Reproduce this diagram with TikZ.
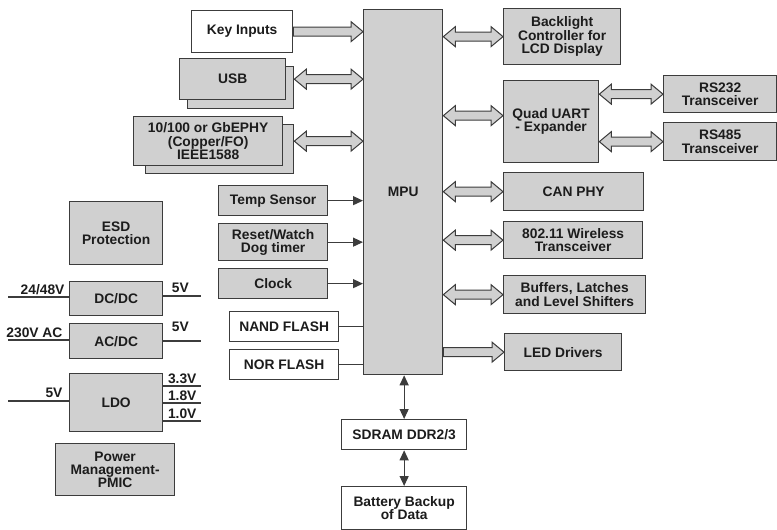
\documentclass[tikz,border=0pt]{standalone}
\usepackage{fontspec}
\setmainfont{Liberation Sans}
\usepackage{tikz}
\usetikzlibrary{positioning}
\usetikzlibrary{calc}
\usetikzlibrary{arrows.meta}
\definecolor{boxgray}{HTML}{D0D0D0}
\definecolor{edgegray}{HTML}{3C3C3C}
\definecolor{inkgray}{HTML}{1C1C1C}
\tikzset{blk/.style = {draw=edgegray, fill=boxgray, line width=1.3pt, anchor=north west,
                       align=center, inner sep=1pt, text=inkgray,
                       font=\bfseries\fontsize{13.8}{13.3}\selectfont}}
\tikzset{wblk/.style = {blk, fill=white}}
\tikzset{lbl/.style = {inner sep=1pt, text=inkgray, font=\bfseries\fontsize{13.8}{13.3}\selectfont}}
\tikzset{wire/.style = {draw=edgegray, line width=1.2pt}}
\tikzset{ptr/.style = {wire, -{Triangle[length=10pt,width=9pt]}}}
\tikzset{pptr/.style = {wire, {Triangle[length=10pt,width=9pt]}-{Triangle[length=10pt,width=9pt]}}}
\tikzset{bus/.style = {draw=edgegray, fill=boxgray, line width=1pt, line join=miter}}
% hollow bus arrows, both ends / one end
\newcommand{\busboth}[2]{%
  \draw[bus] let \p1=#1, \p2=#2 in
    (\x1,\y1) -- (\x1+12pt,\y1+10pt) -- (\x1+12pt,\y1+4.5pt)
    -- (\x2-12pt,\y1+4.5pt) -- (\x2-12pt,\y1+10pt) -- (\x2,\y1)
    -- (\x2-12pt,\y1-10pt) -- (\x2-12pt,\y1-4.5pt) -- (\x1+12pt,\y1-4.5pt)
    -- (\x1+12pt,\y1-10pt) -- cycle;}
\newcommand{\busone}[2]{%
  \draw[bus] let \p1=#1, \p2=#2 in
    (\x1,\y1+4.5pt) -- (\x2-12pt,\y1+4.5pt) -- (\x2-12pt,\y1+10pt) -- (\x2,\y1)
    -- (\x2-12pt,\y1-10pt) -- (\x2-12pt,\y1-4.5pt) -- (\x1,\y1-4.5pt) -- cycle;}

\begin{document}
\begin{tikzpicture}[x=1pt, y=-1pt]
      \useasboundingbox (0,0) rectangle (777,530);

      % processor
      \node[blk, minimum width=79, minimum height=365] (mpu) at (363,9) {MPU};

      % left column
      \node[wblk, minimum width=101, minimum height=42] (key) at (191,10) {Key Inputs};
      \node[blk, minimum width=106, minimum height=42] (usbb) at (187,66) {};
      \node[blk, minimum width=106, minimum height=41] (usb) at (179,58) {USB};
      \node[blk, minimum width=148, minimum height=49] (ethb) at (145,124) {};
      \node[blk, minimum width=149, minimum height=49] (eth) at (133,116)
        {10/100 or GbEPHY\\(Copper/FO)\\IEEE1588};
      \node[blk, minimum width=109, minimum height=30] (temp) at (218,185) {Temp Sensor};
      \node[blk, minimum width=109, minimum height=37] (reset) at (218,223) {Reset/Watch\\Dog timer};
      \node[blk, minimum width=109, minimum height=30] (clock) at (218,268) {Clock};
      \node[wblk, minimum width=109, minimum height=30] (nand) at (229,311) {NAND FLASH};
      \node[wblk, minimum width=109, minimum height=30] (nor) at (229,349) {NOR FLASH};

      % right column
      \node[blk, minimum width=117, minimum height=56] (back) at (503,8)
        {Backlight\\Controller for\\LCD Display};
      \node[blk, minimum width=95, minimum height=82] (quad) at (503,80) {Quad UART\\- Expander};
      \node[blk, minimum width=113, minimum height=37] (rs232) at (663,75) {RS232\\Transceiver};
      \node[blk, minimum width=113, minimum height=38] (rs485) at (663,122) {RS485\\Transceiver};
      \node[blk, minimum width=140, minimum height=38] (can) at (503,172) {CAN PHY};
      \node[blk, minimum width=139, minimum height=37] (wifi) at (503,221)
        {802.11 Wireless\\Transceiver};
      \node[blk, minimum width=142, minimum height=38] (buf) at (503,275)
        {Buffers, Latches\\and Level Shifters};
      \node[blk, minimum width=117, minimum height=37] (led) at (504,333) {LED Drivers};

      % memory below
      \node[wblk, minimum width=125, minimum height=30] (sdram) at (341,419) {SDRAM DDR2/3};
      \node[wblk, minimum width=125, minimum height=43] (batt) at (341,486)
        {Battery Backup\\of Data};

      % power section
      \node[blk, minimum width=93, minimum height=63] (esd) at (69,201) {ESD\\Protection};
      \node[blk, minimum width=93, minimum height=34] (dcdc) at (69,281) {DC/DC};
      \node[blk, minimum width=93, minimum height=35] (acdc) at (69,323) {AC/DC};
      \node[blk, minimum width=93, minimum height=58] (ldo) at (69,373) {LDO};
      \node[blk, minimum width=119, minimum height=52] (pmic) at (55,443)
        {Power\\Management-\\PMIC};

      \coordinate (dcin) at (8,297);
      \coordinate (dcout) at (201,296);
      \coordinate (acin) at (8,340);
      \coordinate (acout) at (201,341);
      \coordinate (ldoin) at (8,401);
      \coordinate (ldoa) at (201,386);
      \coordinate (ldob) at (201,403);
      \coordinate (ldoc) at (201,421);
      \coordinate (quadin) at ([yshift=6pt]quad.west);

      % bus arrows
      \busone{(key.east)}{(key.east -| mpu.west)}
      \busboth{(usbb.east |- usb.east)}{(mpu.west |- usb.east)}
      \busboth{(ethb.east |- eth.east)}{(mpu.west |- eth.east)}
      \busboth{(mpu.east |- back.west)}{(back.west)}
      \busboth{(mpu.east |- quadin)}{(quadin)}
      \busboth{(quad.east |- rs232.west)}{(rs232.west)}
      \busboth{(quad.east |- rs485.west)}{(rs485.west)}
      \busboth{(mpu.east |- can.west)}{(can.west)}
      \busboth{(mpu.east |- wifi.west)}{(wifi.west)}
      \busboth{(mpu.east |- buf.west)}{(buf.west)}
      \busone{(mpu.east |- led.west)}{(led.west)}

      % plain signals
      \draw[ptr] (temp.east) -- (temp.east -| mpu.west);
      \draw[ptr] (reset.east) -- (reset.east -| mpu.west);
      \draw[ptr] (clock.east) -- (clock.east -| mpu.west);
      \draw[wire] (nand.east) -- (nand.east -| mpu.west);
      \draw[wire] (nor.east) -- (nor.east -| mpu.west);
      \draw[pptr] (sdram.north |- mpu.south) -- (sdram.north);
      \draw[pptr] (sdram.south) -- (batt.north);

      % supply lines
      \draw[wire] (dcin) -- (dcin -| dcdc.west)
        node[lbl, pos=1, anchor=south east, xshift=-3pt, yshift=1pt] (dcinl) {24/48V};
      \draw[wire] (dcout -| dcdc.east) -- (dcout)
        node[lbl, pos=0, anchor=south west, xshift=7pt, yshift=2pt] (dcoutl) {5V};
      \draw[wire] (acin) -- (acin -| acdc.west)
        node[lbl, pos=1, anchor=south east, xshift=-5pt, yshift=1pt] (acinl) {230V AC};
      \draw[wire] (acout -| acdc.east) -- (acout)
        node[lbl, pos=0, anchor=south west, xshift=7pt, yshift=8pt] (acoutl) {5V};
      \draw[wire] (ldoin) -- (ldoin -| ldo.west)
        node[lbl, pos=1, anchor=south east, xshift=-5pt, yshift=2pt] (ldoinl) {5V};
      \draw[wire] (ldoa -| ldo.east) -- (ldoa)
        node[lbl, pos=1, anchor=south east, xshift=-3pt, yshift=1pt] (ldoal) {3.3V};
      \draw[wire] (ldob -| ldo.east) -- (ldob)
        node[lbl, pos=1, anchor=south east, xshift=-3pt, yshift=1pt] (ldobl) {1.8V};
      \draw[wire] (ldoc -| ldo.east) -- (ldoc)
        node[lbl, pos=1, anchor=south east, xshift=-3pt, yshift=1pt] (ldocl) {1.0V};
    \end{tikzpicture}
\end{document}
